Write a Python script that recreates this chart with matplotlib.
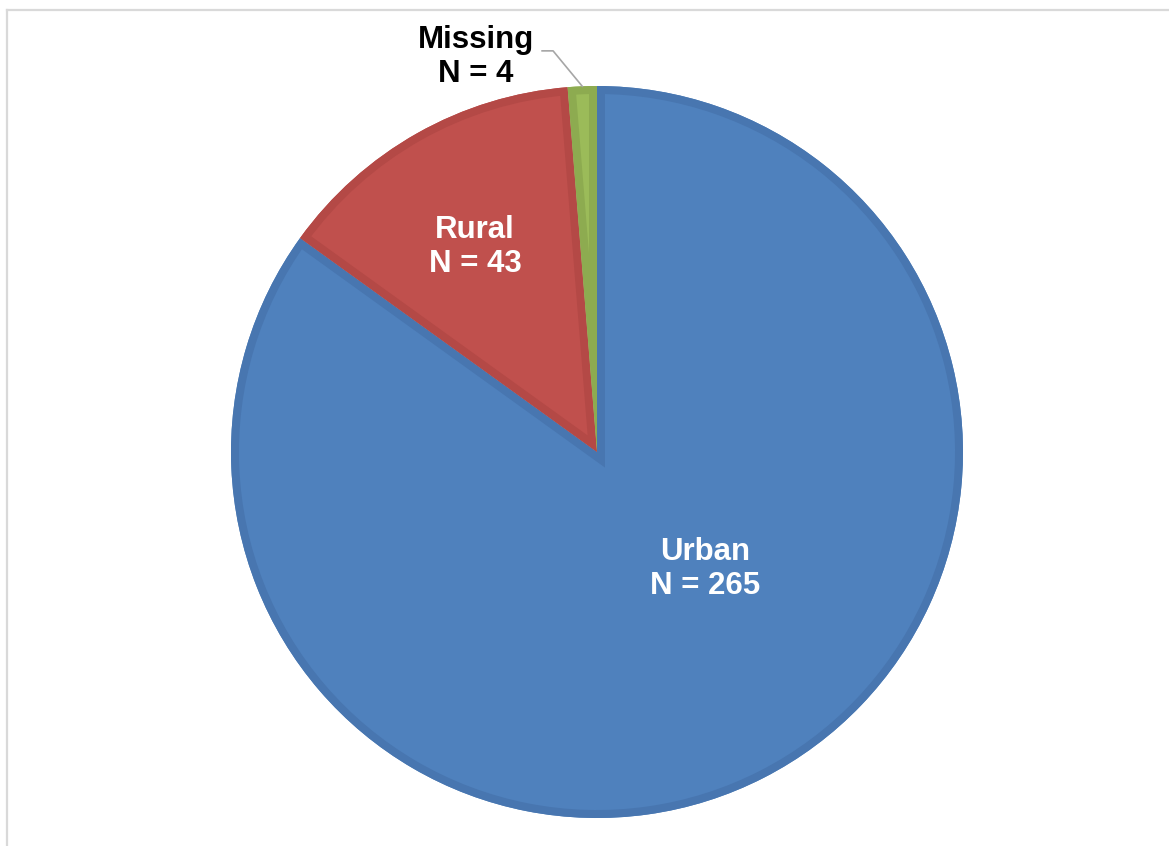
import numpy as np
import matplotlib.pyplot as plt
import matplotlib.patches as mpatches
from matplotlib.lines import Line2D

labels = ['Urban', 'Rural', 'Missing']
counts = [265, 43, 4]
fills = ['#4F81BD', '#C0504D', '#9BBB59']
bands = ['#4876B0', '#B44946', '#8DAB50']
text_colors = ['white', 'white', 'black']

plt.rcParams['font.family'] = ['Liberation Sans', 'DejaVu Sans']

W, H = 1169, 846
fig = plt.figure(figsize=(W / 100, H / 100), dpi=100)
fig.patch.set_facecolor('white')

# chart frame (runs off the right and bottom edges)
fig.add_artist(Line2D([7 / W, 7 / W], [0, 1 - 10 / H], color='#d9d9d9', lw=1.6))
fig.add_artist(Line2D([7 / W, 1], [1 - 10 / H, 1 - 10 / H], color='#d9d9d9', lw=1.6))

cx, cy, r = 597, 452, 366
ax = fig.add_axes([(cx - r) / W, (H - cy - r) / H, 2 * r / W, 2 * r / H])

wedges, _ = ax.pie(counts, colors=fills, startangle=90, counterclock=False,
                   radius=1.0, center=(0, 0), frame=False,
                   wedgeprops=dict(edgecolor='none', linewidth=0))
ax.set_xlim(-1, 1)
ax.set_ylim(-1, 1)
ax.set_aspect('equal')
ax.axis('off')

# darker inner band along every wedge edge, clipped to the wedge
for w, band in zip(wedges, bands):
    b = mpatches.Wedge(w.center, w.r, w.theta1, w.theta2, facecolor='none',
                       edgecolor=band, linewidth=11.5)
    ax.add_patch(b)
    b.set_clip_path(w)

label_pos = [(0.295, -0.320), (-0.333, 0.560), (-0.331, 1.079)]
for lab, n, (x, y), c in zip(labels, counts, label_pos, text_colors):
    ax.text(x, y, f'{lab}\nN = {n}', ha='center', va='center', color=c,
            fontsize=22.5, fontweight='bold', linespacing=1.15, clip_on=False)

# leader line to the small slice
total = sum(counts)
mid = np.deg2rad(90 - 360 * (counts[0] + counts[1] + counts[2] / 2) / total)
ex, ey = np.cos(mid), np.sin(mid)
ax.plot([-0.150, -0.120, ex], [1.096, 1.096, ey], color='#a6a6a6', lw=1.2,
        clip_on=False)

fig.savefig('out.png', dpi=100)
